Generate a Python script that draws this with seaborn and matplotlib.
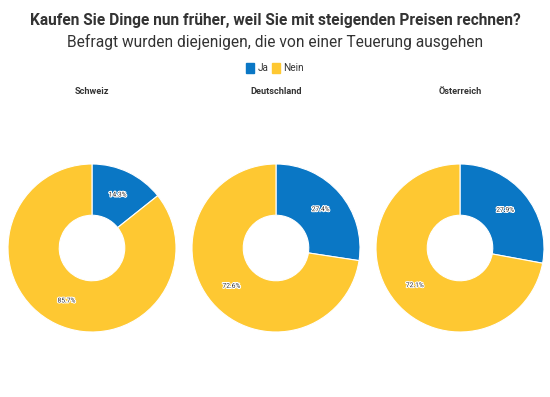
import matplotlib.pyplot as plt
import matplotlib.patheffects as pe
import seaborn as sns

# data
countries = ['Schweiz', 'Deutschland', 'Österreich']
answers = ['Ja', 'Nein']
ja = [14.3, 27.4, 27.9]
nein = [85.7, 72.6, 72.1]

sns.set_theme(style='white')
plt.rcParams['font.family'] = ['Roboto', 'DejaVu Sans']
colors = ['#0a77c5', '#fec832']

W, H = 550, 397
fig = plt.figure(figsize=(W / 100, H / 100), dpi=100)
fig.patch.set_facecolor('white')

fig.text(0.5, 1 - 20 / H, 'Kaufen Sie Dinge nun früher, weil Sie mit steigenden Preisen rechnen?',
         ha='center', va='center', fontsize=11.2, fontweight='bold', color='#333333')
fig.text(0.5, 1 - 42 / H, 'Befragt wurden diejenigen, die von einer Teuerung ausgehen',
         ha='center', va='center', fontsize=11.2, color='#333333')

centers_x = [92, 276, 460]
cy = 248
r = 84
for i, name in enumerate(countries):
    cx = centers_x[i]
    ax = fig.add_axes([(cx - r) / W, (H - cy - r) / H, 2 * r / W, 2 * r / H])
    wedges, texts, autotexts = ax.pie(
        [ja[i], nein[i]], colors=colors, startangle=90, counterclock=False,
        radius=1, autopct='%1.1f%%', pctdistance=0.7,
        wedgeprops=dict(width=0.61, edgecolor='white', linewidth=0.8),
        textprops=dict(fontsize=4.8, color='#333333'))
    for t in autotexts:
        t.set_path_effects([pe.withStroke(linewidth=1.5, foreground='white')])
    ax.set_xlim(-1, 1)
    ax.set_ylim(-1, 1)
    ax.set_aspect('equal')
    ax.axis('off')
    fig.text(cx / W, 1 - 92 / H, name, ha='center', va='center',
             fontsize=6.6, fontweight='bold', color='#333333')

# legend
handles = [plt.Rectangle((0, 0), 1, 1, color=c) for c in colors]
fig.legend(handles, answers, loc='center', bbox_to_anchor=(0.5, 1 - 68 / H), ncol=2,
           frameon=False, fontsize=7.2, handlelength=0.8, handleheight=1.1,
           handletextpad=0.3, columnspacing=0.4, labelcolor='#333333')

fig.savefig('out.png', dpi=100)
